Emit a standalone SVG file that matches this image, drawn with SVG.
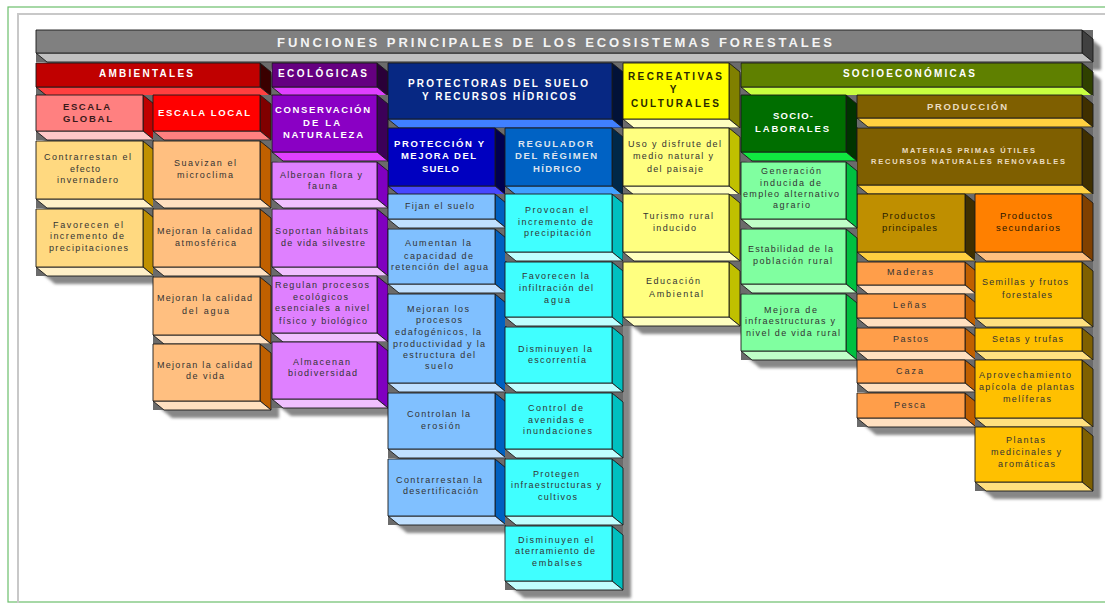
<svg xmlns="http://www.w3.org/2000/svg" width="1105" height="603" viewBox="0 0 1105 603">
<defs>
<filter id="blur" x="-5%" y="-5%" width="110%" height="110%"><feGaussianBlur stdDeviation="1.5"/></filter>
<style>
.box rect,.box polygon{stroke:#1a1a1a;stroke-width:0.9;stroke-linejoin:round}
.box .g{fill:#6b6b6b;stroke:none}
text{font-family:"Liberation Sans",Arial,sans-serif;text-anchor:middle}
.t{font-size:9px;fill:#333}
.h{font-size:10px;font-weight:bold;fill:#fff}
.hd{font-size:9.5px;font-weight:bold;fill:#3a1a1a}
.hs{font-size:7.5px;font-weight:bold;fill:#eadcc0}
.tt{font-size:13px;font-weight:bold;fill:#f4f4f4}
.title .f{fill:#808080}.title .s{fill:#404040}.title .b{fill:#c0c0c0}
.amb .f{fill:#c00000}.amb .s{fill:#3a0000}.amb .b{fill:#ff4040}
.eco .f{fill:#650080}.eco .s{fill:#2a0038}.eco .b{fill:#e040ff}
.prot .f{fill:#072883}.prot .s{fill:#021238}.prot .b{fill:#4080ff}
.recr .f{fill:#ffff00}.recr .s{fill:#808000}.recr .b{fill:#ffffc0}
.soc .f{fill:#5f8000}.soc .s{fill:#2f4000}.soc .b{fill:#c8ff40}
.eg .f{fill:#ff8080}.eg .s{fill:#c00000}.eg .b{fill:#ffc8c8}
.el .f{fill:#ff0000}.el .s{fill:#800000}.el .b{fill:#ff8080}
.cons .f{fill:#8a00c4}.cons .s{fill:#3c0058}.cons .b{fill:#e040ff}
.pms .f{fill:#0000c0}.pms .s{fill:#000050}.pms .b{fill:#4848ff}
.reg .f{fill:#0062c4}.reg .s{fill:#002848}.reg .b{fill:#40a0ff}
.sl .f{fill:#006e00}.sl .s{fill:#003400}.sl .b{fill:#10e840}
.prod .f{fill:#7f5f00}.prod .s{fill:#3f2f00}.prod .b{fill:#ffd040}
.pp .f{fill:#bf8f00}.pp .s{fill:#3f2f00}.pp .b{fill:#ffd040}
.ps .f{fill:#ff8000}.ps .s{fill:#804000}.ps .b{fill:#ffc080}
.ia1 .f{fill:#ffd980}.ia1 .s{fill:#c09000}.ia1 .b{fill:#fff0c8}
.ia2 .f{fill:#ffbf80}.ia2 .s{fill:#c06000}.ia2 .b{fill:#ffe0c0}
.ie .f{fill:#df80ff}.ie .s{fill:#8000c0}.ie .b{fill:#f0c0ff}
.ip .f{fill:#80c0ff}.ip .s{fill:#0060c0}.ip .b{fill:#c0e0ff}
.ir .f{fill:#40ffff}.ir .s{fill:#00c0c0}.ir .b{fill:#c0ffff}
.irc .f{fill:#ffff80}.irc .s{fill:#c0c000}.irc .b{fill:#ffffc0}
.isl .f{fill:#80ffa0}.isl .s{fill:#00c040}.isl .b{fill:#c0ffc8}
.ipp .f{fill:#ff9e4a}.ipp .s{fill:#c06000}.ipp .b{fill:#ffe0c0}
.ips .f{fill:#ffc000}.ips .s{fill:#7f6000}.ips .b{fill:#ffe080}
</style>
</defs>
<rect x="0" y="0" width="1105" height="603" fill="#ffffff"/>
<rect x="8" y="7" width="1110" height="595" fill="none" stroke="#6cbf6c" stroke-width="1.2"/>
<path d="M18,603 V14 H1105" fill="none" stroke="#c8c8c8" stroke-width="2"/>

<g id="shadows" fill="#878787" filter="url(#blur)" transform="translate(8,8)">
<polygon points="36,30 1082,30 1093,39 1093,62 47,62 36,53"/>
<polygon points="975,63 1082,63 1093,72 1093,491 986,491 975,482"/>
<polygon points="857,95 965,95 976,104 976,427 868,427 857,418"/>
<polygon points="741,63 846,63 857,72 857,360 752,360 741,351"/>
<polygon points="623,63 729,63 740,72 740,326 634,326 623,317"/>
<polygon points="505,63 612,63 623,72 623,590 516,590 505,581"/>
<polygon points="388,63 495,63 506,72 506,525 399,525 388,516"/>
<polygon points="272,63 377,63 388,72 388,408 283,408 272,399"/>
<polygon points="153,63 260,63 271,72 271,410 164,410 153,401"/>
<polygon points="36,63 143,63 154,72 154,276 47,276 36,267"/>
</g>

<g id="connectors"/>

<g id="n-title" class="box title">
<rect class="g" x="36" y="30" width="1057" height="32"/>
<polygon class="s" points="1082,30 1093,39 1093,62 1082,53"/>
<polygon class="b" points="36,53 1082,53 1093,62 47,62"/>
<rect class="f" x="36" y="30" width="1046" height="23"/>
<text class="tt" x="554.5" y="47" textLength="555" lengthAdjust="spacing">FUNCIONES PRINCIPALES DE LOS ECOSISTEMAS FORESTALES</text>
</g>

<g id="n-ambientales" class="box amb">
<rect class="g" x="36" y="63" width="235" height="33"/>
<polygon class="s" points="260,63 271,72 271,96 260,87"/>
<polygon class="b" points="36,87 260,87 271,96 47,96"/>
<rect class="f" x="36" y="63" width="224" height="24"/>
<text class="h" x="146" y="77" textLength="94" lengthAdjust="spacing">AMBIENTALES</text>
</g>

<g id="n-ecologicas" class="box eco">
<rect class="g" x="272" y="63" width="116" height="33"/>
<polygon class="s" points="377,63 388,72 388,96 377,87"/>
<polygon class="b" points="272,87 377,87 388,96 283,96"/>
<rect class="f" x="272" y="63" width="105" height="24"/>
<text class="h" x="322.5" y="77" textLength="89" lengthAdjust="spacing">ECOLÓGICAS</text>
</g>

<g id="n-protectoras" class="box prot">
<rect class="g" x="388" y="63" width="235" height="65"/>
<polygon class="s" points="612,63 623,72 623,128 612,119"/>
<polygon class="b" points="388,119 612,119 623,128 399,128"/>
<rect class="f" x="388" y="63" width="224" height="56"/>
<text class="h" x="498" y="87" textLength="180" lengthAdjust="spacing">PROTECTORAS DEL SUELO</text>
<text class="h" x="499" y="100" textLength="154" lengthAdjust="spacing">Y RECURSOS HÍDRICOS</text>
</g>

<g id="n-recreativas" class="box recr">
<rect class="g" x="623" y="63" width="117" height="65"/>
<polygon class="s" points="729,63 740,72 740,128 729,119"/>
<polygon class="b" points="623,119 729,119 740,128 634,128"/>
<rect class="f" x="623" y="63" width="106" height="56"/>
<text class="h" style="fill:#2a2a00" x="675" y="80" textLength="94" lengthAdjust="spacing">RECREATIVAS</text>
<text class="h" style="fill:#2a2a00" x="673" y="93">Y</text>
<text class="h" style="fill:#2a2a00" x="675" y="107" textLength="88" lengthAdjust="spacing">CULTURALES</text>
</g>

<g id="n-socioeconomicas" class="box soc">
<rect class="g" x="741" y="63" width="352" height="33"/>
<polygon class="s" points="1082,63 1093,72 1093,96 1082,87"/>
<polygon class="b" points="741,87 1082,87 1093,96 752,96"/>
<rect class="f" x="741" y="63" width="341" height="24"/>
<text class="h" x="909" y="77" textLength="132" lengthAdjust="spacing">SOCIOECONÓMICAS</text>
</g>

<g id="n-escala-global" class="box eg">
<rect class="g" x="36" y="95" width="118" height="45"/>
<polygon class="s" points="143,95 154,104 154,140 143,131"/>
<polygon class="b" points="36,131 143,131 154,140 47,140"/>
<rect class="f" x="36" y="95" width="107" height="36"/>
<text class="hd" x="86.5" y="110" textLength="47" lengthAdjust="spacing">ESCALA</text>
<text class="hd" x="87.5" y="122" textLength="49" lengthAdjust="spacing">GLOBAL</text>
</g>

<g id="n-escala-local" class="box el">
<rect class="g" x="153" y="95" width="118" height="45"/>
<polygon class="s" points="260,95 271,104 271,140 260,131"/>
<polygon class="b" points="153,131 260,131 271,140 164,140"/>
<rect class="f" x="153" y="95" width="107" height="36"/>
<text class="h" style="font-size:9.5px" x="204" y="116" textLength="92" lengthAdjust="spacing">ESCALA LOCAL</text>
</g>

<g id="n-conservacion" class="box cons">
<rect class="g" x="272" y="95" width="116" height="66"/>
<polygon class="s" points="377,95 388,104 388,161 377,152"/>
<polygon class="b" points="272,152 377,152 388,161 283,161"/>
<rect class="f" x="272" y="95" width="105" height="57"/>
<text class="h" style="font-size:9.5px" x="322.5" y="113" textLength="95" lengthAdjust="spacing">CONSERVACIÓN</text>
<text class="h" style="font-size:9.5px" x="321.5" y="126" textLength="37" lengthAdjust="spacing">DE LA</text>
<text class="h" style="font-size:9.5px" x="323" y="138" textLength="80" lengthAdjust="spacing">NATURALEZA</text>
</g>

<g id="n-proteccion" class="box pms">
<rect class="g" x="388" y="128" width="118" height="67"/>
<polygon class="s" points="495,128 506,137 506,195 495,186"/>
<polygon class="b" points="388,186 495,186 506,195 399,195"/>
<rect class="f" x="388" y="128" width="107" height="58"/>
<text class="h" style="font-size:9.5px" x="439" y="147" textLength="90" lengthAdjust="spacing">PROTECCIÓN Y</text>
<text class="h" style="font-size:9.5px" x="438.5" y="159" textLength="75" lengthAdjust="spacing">MEJORA DEL</text>
<text class="h" style="font-size:9.5px" x="440.5" y="172" textLength="37" lengthAdjust="spacing">SUELO</text>
</g>

<g id="n-regulador" class="box reg">
<rect class="g" x="505" y="128" width="118" height="67"/>
<polygon class="s" points="612,128 623,137 623,195 612,186"/>
<polygon class="b" points="505,186 612,186 623,195 516,195"/>
<rect class="f" x="505" y="128" width="107" height="58"/>
<text class="h" style="font-size:9.5px;fill:#dde4ee" x="555.5" y="147" textLength="75" lengthAdjust="spacing">REGULADOR</text>
<text class="h" style="font-size:9.5px;fill:#dde4ee" x="556" y="159" textLength="82" lengthAdjust="spacing">DEL RÉGIMEN</text>
<text class="h" style="font-size:9.5px;fill:#dde4ee" x="557" y="172" textLength="48" lengthAdjust="spacing">HÍDRICO</text>
</g>

<g id="n-uso-disfrute" class="box irc">
<rect class="g" x="623" y="128" width="117" height="67"/>
<polygon class="s" points="729,128 740,137 740,195 729,186"/>
<polygon class="b" points="623,186 729,186 740,195 634,195"/>
<rect class="f" x="623" y="128" width="106" height="58"/>
<text class="t" x="674.5" y="147" textLength="93" lengthAdjust="spacing">Uso y disfrute del</text>
<text class="t" x="673" y="159" textLength="80" lengthAdjust="spacing">medio natural y</text>
<text class="t" x="675" y="172" textLength="56" lengthAdjust="spacing">del paisaje</text>
</g>

<g id="n-sociolaborales" class="box sl">
<rect class="g" x="741" y="95" width="116" height="66"/>
<polygon class="s" points="846,95 857,104 857,161 846,152"/>
<polygon class="b" points="741,152 846,152 857,161 752,161"/>
<rect class="f" x="741" y="95" width="105" height="57"/>
<text class="h" style="font-size:9.5px" x="793" y="119" textLength="40" lengthAdjust="spacing">SOCIO-</text>
<text class="h" style="font-size:9.5px" x="792" y="132" textLength="74" lengthAdjust="spacing">LABORALES</text>
</g>

<g id="n-produccion" class="box prod">
<rect class="g" x="857" y="95" width="236" height="32"/>
<polygon class="s" points="1082,95 1093,104 1093,127 1082,118"/>
<polygon class="b" points="857,118 1082,118 1093,127 868,127"/>
<rect class="f" x="857" y="95" width="225" height="23"/>
<text class="h" style="font-size:9.5px;fill:#eadcc0" x="967" y="110" textLength="80" lengthAdjust="spacing">PRODUCCIÓN</text>
</g>

<g id="n-materias" class="box prod">
<rect class="g" x="857" y="128" width="236" height="66"/>
<polygon class="s" points="1082,128 1093,137 1093,194 1082,185"/>
<polygon class="b" points="857,185 1082,185 1093,194 868,194"/>
<rect class="f" x="857" y="128" width="225" height="57"/>
<text class="hs" x="968.5" y="153" textLength="133" lengthAdjust="spacing">MATERIAS PRIMAS ÚTILES</text>
<text class="hs" x="968" y="164" textLength="194" lengthAdjust="spacing">RECURSOS NATURALES RENOVABLES</text>
</g>

<g id="n-productos-principales" class="box pp">
<rect class="g" x="857" y="194" width="119" height="67"/>
<polygon class="s" points="965,194 976,203 976,261 965,252"/>
<polygon class="b" points="857,252 965,252 976,261 868,261"/>
<rect class="f" x="857" y="194" width="108" height="58"/>
<text class="t" style="font-size:9.5px;fill:#2a2000" x="908.5" y="219" textLength="53" lengthAdjust="spacing">Productos</text>
<text class="t" style="font-size:9.5px;fill:#2a2000" x="909.5" y="231" textLength="55" lengthAdjust="spacing">principales</text>
</g>

<g id="n-productos-secundarios" class="box ps">
<rect class="g" x="975" y="194" width="118" height="67"/>
<polygon class="s" points="1082,194 1093,203 1093,261 1082,252"/>
<polygon class="b" points="975,252 1082,252 1093,261 986,261"/>
<rect class="f" x="975" y="194" width="107" height="58"/>
<text class="t" style="font-size:9.5px;fill:#2a1800" x="1026" y="219" textLength="52" lengthAdjust="spacing">Productos</text>
<text class="t" style="font-size:9.5px;fill:#2a1800" x="1028" y="231" textLength="64" lengthAdjust="spacing">secundarios</text>
</g>

<g id="n-contrarrestan-efecto" class="box ia1">
<rect class="g" x="36" y="141" width="118" height="67"/>
<polygon class="s" points="143,141 154,150 154,208 143,199"/>
<polygon class="b" points="36,199 143,199 154,208 47,208"/>
<rect class="f" x="36" y="141" width="107" height="58"/>
<text class="t" x="87.5" y="160" textLength="87" lengthAdjust="spacing">Contrarrestan el</text>
<text class="t" x="85" y="172" textLength="30" lengthAdjust="spacing">efecto</text>
<text class="t" x="87.5" y="183" textLength="61" lengthAdjust="spacing">invernadero</text>
</g>

<g id="n-favorecen-precip" class="box ia1">
<rect class="g" x="36" y="209" width="118" height="67"/>
<polygon class="s" points="143,209 154,218 154,276 143,267"/>
<polygon class="b" points="36,267 143,267 154,276 47,276"/>
<rect class="f" x="36" y="209" width="107" height="58"/>
<text class="t" x="88" y="228" textLength="70" lengthAdjust="spacing">Favorecen el</text>
<text class="t" x="87" y="239" textLength="74" lengthAdjust="spacing">incremento de</text>
<text class="t" x="88.5" y="251" textLength="79" lengthAdjust="spacing">precipitaciones</text>
</g>

<g id="n-suavizan" class="box ia2">
<rect class="g" x="153" y="141" width="118" height="67"/>
<polygon class="s" points="260,141 271,150 271,208 260,199"/>
<polygon class="b" points="153,199 260,199 271,208 164,208"/>
<rect class="f" x="153" y="141" width="107" height="58"/>
<text class="t" x="205" y="166" textLength="62" lengthAdjust="spacing">Suavizan el</text>
<text class="t" x="205" y="178" textLength="56" lengthAdjust="spacing">microclima</text>
</g>

<g id="n-calidad-atm" class="box ia2">
<rect class="g" x="153" y="209" width="118" height="67"/>
<polygon class="s" points="260,209 271,218 271,276 260,267"/>
<polygon class="b" points="153,267 260,267 271,276 164,276"/>
<rect class="f" x="153" y="209" width="107" height="58"/>
<text class="t" x="204.5" y="234" textLength="95" lengthAdjust="spacing">Mejoran la calidad</text>
<text class="t" x="205.5" y="246" textLength="61" lengthAdjust="spacing">atmosférica</text>
</g>

<g id="n-calidad-agua" class="box ia2">
<rect class="g" x="153" y="277" width="118" height="67"/>
<polygon class="s" points="260,277 271,286 271,344 260,335"/>
<polygon class="b" points="153,335 260,335 271,344 164,344"/>
<rect class="f" x="153" y="277" width="107" height="58"/>
<text class="t" x="204.5" y="301" textLength="95" lengthAdjust="spacing">Mejoran la calidad</text>
<text class="t" x="205.5" y="314" textLength="47" lengthAdjust="spacing">del agua</text>
</g>

<g id="n-calidad-vida" class="box ia2">
<rect class="g" x="153" y="344" width="118" height="66"/>
<polygon class="s" points="260,344 271,353 271,410 260,401"/>
<polygon class="b" points="153,401 260,401 271,410 164,410"/>
<rect class="f" x="153" y="344" width="107" height="57"/>
<text class="t" x="204.5" y="368" textLength="95" lengthAdjust="spacing">Mejoran la calidad</text>
<text class="t" x="205" y="379" textLength="38" lengthAdjust="spacing">de vida</text>
</g>

<g id="n-alberoan" class="box ie">
<rect class="g" x="272" y="162" width="116" height="46"/>
<polygon class="s" points="377,162 388,171 388,208 377,199"/>
<polygon class="b" points="272,199 377,199 388,208 283,208"/>
<rect class="f" x="272" y="162" width="105" height="37"/>
<text class="t" x="321" y="178" textLength="82" lengthAdjust="spacing">Alberoan flora y</text>
<text class="t" x="322.5" y="189" textLength="29" lengthAdjust="spacing">fauna</text>
</g>

<g id="n-soportan" class="box ie">
<rect class="g" x="272" y="209" width="116" height="67"/>
<polygon class="s" points="377,209 388,218 388,276 377,267"/>
<polygon class="b" points="272,267 377,267 388,276 283,276"/>
<rect class="f" x="272" y="209" width="105" height="58"/>
<text class="t" x="321.5" y="234" textLength="93" lengthAdjust="spacing">Soportan hábitats</text>
<text class="t" x="323" y="246" textLength="84" lengthAdjust="spacing">de vida silvestre</text>
</g>

<g id="n-regulan" class="box ie">
<rect class="g" x="272" y="276" width="116" height="66"/>
<polygon class="s" points="377,276 388,285 388,342 377,333"/>
<polygon class="b" points="272,333 377,333 388,342 283,342"/>
<rect class="f" x="272" y="276" width="105" height="57"/>
<text class="t" x="322" y="288" textLength="94" lengthAdjust="spacing">Regulan procesos</text>
<text class="t" x="320.5" y="300" textLength="55" lengthAdjust="spacing">ecológicos</text>
<text class="t" x="322" y="311" textLength="94" lengthAdjust="spacing">esenciales a nivel</text>
<text class="t" x="323" y="324" textLength="88" lengthAdjust="spacing">físico y biológico</text>
</g>

<g id="n-almacenan" class="box ie">
<rect class="g" x="272" y="342" width="116" height="66"/>
<polygon class="s" points="377,342 388,351 388,408 377,399"/>
<polygon class="b" points="272,399 377,399 388,408 283,408"/>
<rect class="f" x="272" y="342" width="105" height="57"/>
<text class="t" x="321.5" y="365" textLength="57" lengthAdjust="spacing">Almacenan</text>
<text class="t" x="322.5" y="376" textLength="69" lengthAdjust="spacing">biodiversidad</text>
</g>

<g id="n-fijan" class="box ip">
<rect class="g" x="388" y="194" width="118" height="34"/>
<polygon class="s" points="495,194 506,203 506,228 495,219"/>
<polygon class="b" points="388,219 495,219 506,228 399,228"/>
<rect class="f" x="388" y="194" width="107" height="25"/>
<text class="t" x="439.5" y="209" textLength="69" lengthAdjust="spacing">Fijan el suelo</text>
</g>

<g id="n-aumentan" class="box ip">
<rect class="g" x="388" y="229" width="118" height="64"/>
<polygon class="s" points="495,229 506,238 506,293 495,284"/>
<polygon class="b" points="388,284 495,284 506,293 399,293"/>
<rect class="f" x="388" y="229" width="107" height="55"/>
<text class="t" x="438" y="246" textLength="66" lengthAdjust="spacing">Aumentan la</text>
<text class="t" x="438.5" y="259" textLength="69" lengthAdjust="spacing">capacidad de</text>
<text class="t" x="439.5" y="270" textLength="97" lengthAdjust="spacing">retención del agua</text>
</g>

<g id="n-edafogenicos" class="box ip">
<rect class="g" x="388" y="294" width="118" height="98"/>
<polygon class="s" points="495,294 506,303 506,392 495,383"/>
<polygon class="b" points="388,383 495,383 506,392 399,392"/>
<rect class="f" x="388" y="294" width="107" height="89"/>
<text class="t" x="438" y="312" textLength="62" lengthAdjust="spacing">Mejoran los</text>
<text class="t" x="439" y="323" textLength="46" lengthAdjust="spacing">procesos</text>
<text class="t" x="438" y="335" textLength="86" lengthAdjust="spacing">edafogénicos, la</text>
<text class="t" x="439" y="347" textLength="92" lengthAdjust="spacing">productividad y la</text>
<text class="t" x="439" y="358" textLength="72" lengthAdjust="spacing">estructura del</text>
<text class="t" x="439" y="369" textLength="28" lengthAdjust="spacing">suelo</text>
</g>

<g id="n-erosion" class="box ip">
<rect class="g" x="388" y="393" width="118" height="65"/>
<polygon class="s" points="495,393 506,402 506,458 495,449"/>
<polygon class="b" points="388,449 495,449 506,458 399,458"/>
<rect class="f" x="388" y="393" width="107" height="56"/>
<text class="t" x="438.5" y="417" textLength="63" lengthAdjust="spacing">Controlan la</text>
<text class="t" x="440.5" y="429" textLength="39" lengthAdjust="spacing">erosión</text>
</g>

<g id="n-desertificacion" class="box ip">
<rect class="g" x="388" y="459" width="118" height="66"/>
<polygon class="s" points="495,459 506,468 506,525 495,516"/>
<polygon class="b" points="388,516 495,516 506,525 399,525"/>
<rect class="f" x="388" y="459" width="107" height="57"/>
<text class="t" x="439" y="483" textLength="86" lengthAdjust="spacing">Contrarrestan la</text>
<text class="t" x="440.5" y="494" textLength="75" lengthAdjust="spacing">desertificación</text>
</g>

<g id="n-provocan" class="box ir">
<rect class="g" x="505" y="194" width="118" height="67"/>
<polygon class="s" points="612,194 623,203 623,261 612,252"/>
<polygon class="b" points="505,252 612,252 623,261 516,261"/>
<rect class="f" x="505" y="194" width="107" height="58"/>
<text class="t" x="556.5" y="213" textLength="63" lengthAdjust="spacing">Provocan el</text>
<text class="t" x="555.5" y="225" textLength="75" lengthAdjust="spacing">incremento de</text>
<text class="t" x="557.5" y="236" textLength="67" lengthAdjust="spacing">precipitación</text>
</g>

<g id="n-infiltracion" class="box ir">
<rect class="g" x="505" y="262" width="118" height="64"/>
<polygon class="s" points="612,262 623,271 623,326 612,317"/>
<polygon class="b" points="505,317 612,317 623,326 516,326"/>
<rect class="f" x="505" y="262" width="107" height="55"/>
<text class="t" x="555.5" y="279" textLength="67" lengthAdjust="spacing">Favorecen la</text>
<text class="t" x="556" y="291" textLength="74" lengthAdjust="spacing">infiltración del</text>
<text class="t" x="557" y="303" textLength="26" lengthAdjust="spacing">agua</text>
</g>

<g id="n-escorrentia" class="box ir">
<rect class="g" x="505" y="327" width="118" height="65"/>
<polygon class="s" points="612,327 623,336 623,392 612,383"/>
<polygon class="b" points="505,383 612,383 623,392 516,392"/>
<rect class="f" x="505" y="327" width="107" height="56"/>
<text class="t" x="555" y="352" textLength="74" lengthAdjust="spacing">Disminuyen la</text>
<text class="t" x="557" y="363" textLength="58" lengthAdjust="spacing">escorrentía</text>
</g>

<g id="n-avenidas" class="box ir">
<rect class="g" x="505" y="393" width="118" height="65"/>
<polygon class="s" points="612,393 623,402 623,458 612,449"/>
<polygon class="b" points="505,449 612,449 623,458 516,458"/>
<rect class="f" x="505" y="393" width="107" height="56"/>
<text class="t" x="555.5" y="411" textLength="55" lengthAdjust="spacing">Control de</text>
<text class="t" x="556" y="423" textLength="56" lengthAdjust="spacing">avenidas e</text>
<text class="t" x="557.5" y="434" textLength="69" lengthAdjust="spacing">inundaciones</text>
</g>

<g id="n-protegen" class="box ir">
<rect class="g" x="505" y="459" width="118" height="66"/>
<polygon class="s" points="612,459 623,468 623,525 612,516"/>
<polygon class="b" points="505,516 612,516 623,525 516,525"/>
<rect class="f" x="505" y="459" width="107" height="57"/>
<text class="t" x="556" y="477" textLength="46" lengthAdjust="spacing">Protegen</text>
<text class="t" x="556" y="488" textLength="90" lengthAdjust="spacing">infraestructuras y</text>
<text class="t" x="557.5" y="500" textLength="39" lengthAdjust="spacing">cultivos</text>
</g>

<g id="n-aterramiento" class="box ir">
<rect class="g" x="505" y="526" width="118" height="64"/>
<polygon class="s" points="612,526 623,535 623,590 612,581"/>
<polygon class="b" points="505,581 612,581 623,590 516,590"/>
<rect class="f" x="505" y="526" width="107" height="55"/>
<text class="t" x="555.5" y="543" textLength="75" lengthAdjust="spacing">Disminuyen el</text>
<text class="t" x="555" y="554" textLength="80" lengthAdjust="spacing">aterramiento de</text>
<text class="t" x="557" y="566" textLength="50" lengthAdjust="spacing">embalses</text>
</g>

<g id="n-turismo" class="box irc">
<rect class="g" x="623" y="194" width="117" height="67"/>
<polygon class="s" points="729,194 740,203 740,261 729,252"/>
<polygon class="b" points="623,252 729,252 740,261 634,261"/>
<rect class="f" x="623" y="194" width="106" height="58"/>
<text class="t" x="678" y="219" textLength="70" lengthAdjust="spacing">Turismo rural</text>
<text class="t" x="674.5" y="231" textLength="43" lengthAdjust="spacing">inducido</text>
</g>

<g id="n-educacion" class="box irc">
<rect class="g" x="623" y="262" width="117" height="64"/>
<polygon class="s" points="729,262 740,271 740,326 729,317"/>
<polygon class="b" points="623,317 729,317 740,326 634,326"/>
<rect class="f" x="623" y="262" width="106" height="55"/>
<text class="t" x="673" y="284" textLength="54" lengthAdjust="spacing">Educación</text>
<text class="t" x="676" y="297" textLength="54" lengthAdjust="spacing">Ambiental</text>
</g>

<g id="n-generacion" class="box isl">
<rect class="g" x="741" y="162" width="116" height="66"/>
<polygon class="s" points="846,162 857,171 857,228 846,219"/>
<polygon class="b" points="741,219 846,219 857,228 752,228"/>
<rect class="f" x="741" y="162" width="105" height="57"/>
<text class="t" x="791" y="174" textLength="60" lengthAdjust="spacing">Generación</text>
<text class="t" x="790.5" y="186" textLength="61" lengthAdjust="spacing">inducida de</text>
<text class="t" x="791" y="197" textLength="96" lengthAdjust="spacing">empleo alternativo</text>
<text class="t" x="791.5" y="208" textLength="37" lengthAdjust="spacing">agrario</text>
</g>

<g id="n-estabilidad" class="box isl">
<rect class="g" x="741" y="229" width="116" height="64"/>
<polygon class="s" points="846,229 857,238 857,293 846,284"/>
<polygon class="b" points="741,284 846,284 857,293 752,293"/>
<rect class="f" x="741" y="229" width="105" height="55"/>
<text class="t" x="790.5" y="252" textLength="85" lengthAdjust="spacing">Estabilidad de la</text>
<text class="t" x="792.5" y="264" textLength="79" lengthAdjust="spacing">población rural</text>
</g>

<g id="n-mejora-infra" class="box isl">
<rect class="g" x="741" y="294" width="116" height="66"/>
<polygon class="s" points="846,294 857,303 857,360 846,351"/>
<polygon class="b" points="741,351 846,351 857,360 752,360"/>
<rect class="f" x="741" y="294" width="105" height="57"/>
<text class="t" x="790.5" y="313" textLength="53" lengthAdjust="spacing">Mejora de</text>
<text class="t" x="790" y="324" textLength="90" lengthAdjust="spacing">infraestructuras y</text>
<text class="t" x="793" y="336" textLength="94" lengthAdjust="spacing">nivel de vida rural</text>
</g>

<g id="n-maderas" class="box ipp">
<rect class="g" x="857" y="262" width="119" height="32"/>
<polygon class="s" points="965,262 976,271 976,294 965,285"/>
<polygon class="b" points="857,285 965,285 976,294 868,294"/>
<rect class="f" x="857" y="262" width="108" height="23"/>
<text class="t" x="910" y="275" textLength="46" lengthAdjust="spacing">Maderas</text>
</g>

<g id="n-lenas" class="box ipp">
<rect class="g" x="857" y="294" width="119" height="33"/>
<polygon class="s" points="965,294 976,303 976,327 965,318"/>
<polygon class="b" points="857,318 965,318 976,327 868,327"/>
<rect class="f" x="857" y="294" width="108" height="24"/>
<text class="t" x="909.5" y="308" textLength="33" lengthAdjust="spacing">Leñas</text>
</g>

<g id="n-pastos" class="box ipp">
<rect class="g" x="857" y="328" width="119" height="32"/>
<polygon class="s" points="965,328 976,337 976,360 965,351"/>
<polygon class="b" points="857,351 965,351 976,360 868,360"/>
<rect class="f" x="857" y="328" width="108" height="23"/>
<text class="t" x="910.5" y="342" textLength="35" lengthAdjust="spacing">Pastos</text>
</g>

<g id="n-caza" class="box ipp">
<rect class="g" x="857" y="360" width="119" height="32"/>
<polygon class="s" points="965,360 976,369 976,392 965,383"/>
<polygon class="b" points="857,383 965,383 976,392 868,392"/>
<rect class="f" x="857" y="360" width="108" height="23"/>
<text class="t" x="909.5" y="374" textLength="27" lengthAdjust="spacing">Caza</text>
</g>

<g id="n-pesca" class="box ipp">
<rect class="g" x="857" y="393" width="119" height="34"/>
<polygon class="s" points="965,393 976,402 976,427 965,418"/>
<polygon class="b" points="857,418 965,418 976,427 868,427"/>
<rect class="f" x="857" y="393" width="108" height="25"/>
<text class="t" x="909.5" y="408" textLength="31" lengthAdjust="spacing">Pesca</text>
</g>

<g id="n-semillas" class="box ips">
<rect class="g" x="975" y="262" width="118" height="65"/>
<polygon class="s" points="1082,262 1093,271 1093,327 1082,318"/>
<polygon class="b" points="975,318 1082,318 1093,327 986,327"/>
<rect class="f" x="975" y="262" width="107" height="56"/>
<text class="t" x="1025" y="285" textLength="86" lengthAdjust="spacing">Semillas y frutos</text>
<text class="t" x="1027" y="298" textLength="50" lengthAdjust="spacing">forestales</text>
</g>

<g id="n-setas" class="box ips">
<rect class="g" x="975" y="328" width="118" height="32"/>
<polygon class="s" points="1082,328 1093,337 1093,360 1082,351"/>
<polygon class="b" points="975,351 1082,351 1093,360 986,360"/>
<rect class="f" x="975" y="328" width="107" height="23"/>
<text class="t" x="1027.5" y="342" textLength="71" lengthAdjust="spacing">Setas y trufas</text>
</g>

<g id="n-apicola" class="box ips">
<rect class="g" x="975" y="360" width="118" height="67"/>
<polygon class="s" points="1082,360 1093,369 1093,427 1082,418"/>
<polygon class="b" points="975,418 1082,418 1093,427 986,427"/>
<rect class="f" x="975" y="360" width="107" height="58"/>
<text class="t" x="1025" y="378" textLength="92" lengthAdjust="spacing">Aprovechamiento</text>
<text class="t" x="1026.5" y="390" textLength="95" lengthAdjust="spacing">apícola de plantas</text>
<text class="t" x="1027" y="402" textLength="48" lengthAdjust="spacing">melíferas</text>
</g>

<g id="n-medicinales" class="box ips">
<rect class="g" x="975" y="427" width="118" height="64"/>
<polygon class="s" points="1082,427 1093,436 1093,491 1082,482"/>
<polygon class="b" points="975,482 1082,482 1093,491 986,491"/>
<rect class="f" x="975" y="427" width="107" height="55"/>
<text class="t" x="1025.5" y="443" textLength="39" lengthAdjust="spacing">Plantas</text>
<text class="t" x="1026" y="455" textLength="70" lengthAdjust="spacing">medicinales y</text>
<text class="t" x="1026.5" y="467" textLength="57" lengthAdjust="spacing">aromáticas</text>
</g>
</svg>
